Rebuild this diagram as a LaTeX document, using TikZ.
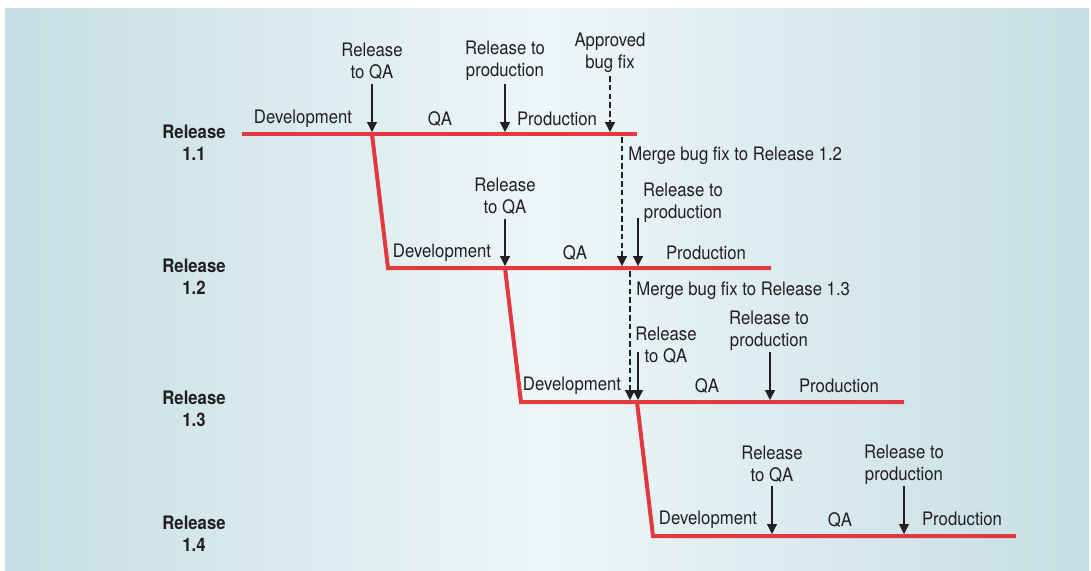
\documentclass[tikz,border=0pt]{standalone}
\usepackage{fontspec}
\setmainfont{TeX Gyre Heros}[FakeStretch=0.9]
\usetikzlibrary{arrows.meta}
\definecolor{bgl}{HTML}{C4DEE3}
\definecolor{bgm}{HTML}{EEF6F7}
\definecolor{relred}{HTML}{E2393F}
\definecolor{ink}{HTML}{231F20}
\tikzset{
  lbl/.style={inner sep=0pt, align=center, text=ink, font=\fontsize{9.3}{11}\selectfont, yshift=-1pt},
  rel/.style={inner sep=0pt, align=center, text=ink, font=\fontsize{9.3}{11}\selectfont\bfseries},
  phase/.style={inner sep=0pt, text=ink, font=\fontsize{9.3}{11}\selectfont, yshift=-1pt},
  redline/.style={draw=relred, line width=2pt},
  arr/.style={draw=ink, line width=0.6pt, -{Triangle[length=5pt,width=5pt]}},
  darr/.style={arr, dash pattern=on 2.8pt off 1.6pt},
  dline/.style={draw=ink, line width=0.6pt, dash pattern=on 2.8pt off 1.6pt}
}
\begin{document}
\begin{tikzpicture}[x=0.5pt,y=-0.5pt]
\useasboundingbox (0,0) rectangle (1091,570);
\shade[left color=bgl, right color=bgl, middle color=bgm] (5,8) rectangle (1089,570);

% release labels
\node[rel] (r11) at (194,143) {Release\\1.1};
\node[rel] (r12) at (194,277) {Release\\1.2};
\node[rel] (r13) at (194,409) {Release\\1.3};
\node[rel] (r14) at (194,534) {Release\\1.4};

% red lines
\coordinate (l1a) at (242,134); \coordinate (l1b) at (637,134);
\coordinate (d1a) at (372,134); \coordinate (l2a) at (388,268); \coordinate (l2b) at (771,268);
\coordinate (d2a) at (505,268); \coordinate (l3a) at (521,402); \coordinate (l3b) at (904,402);
\coordinate (d3a) at (637,402); \coordinate (l4a) at (653,536); \coordinate (l4b) at (1016,536);
\draw[redline] (l1a) -- (l1b);
\draw[redline, line join=miter] (d1a) -- (l2a) -- (l2b);
\draw[redline, line join=miter] (d2a) -- (l3a) -- (l3b);
\draw[redline, line join=miter] (d3a) -- (l4a) -- (l4b);

% Release 1.1
\node[phase] (dev1) at (303,117) {Development};
\node[phase] (qa1) at (440,117) {QA};
\node[phase] (prod1) at (557,117) {Production};
\node[lbl] (rqa1) at (372,59) {Release\\to QA};
\node[lbl] (rpr1) at (505,59) {Release to\\production};
\node[lbl] (abf) at (610,51) {Approved\\bug fix};
\coordinate (a1s) at (372,84); \coordinate (a1e) at (372,132);
\coordinate (a2s) at (505,84); \coordinate (a2e) at (505,132);
\coordinate (a3s) at (610,76); \coordinate (a3e) at (610,132);
\draw[arr] (a1s) -- (a1e);
\draw[arr] (a2s) -- (a2e);
\draw[darr] (a3s) -- (a3e);
\coordinate (m1s) at (622,137); \coordinate (m1e) at (622,266);
\draw[darr] (m1s) -- (m1e);
\node[phase, anchor=west] (mg1) at (628,154) {Merge bug fix to Release 1.2};

% Release 1.2
\node[phase] (dev2) at (442,251) {Development};
\node[phase] (qa2) at (575,251) {QA};
\node[phase] (prod2) at (706,251) {Production};
\node[lbl] (rqa2) at (505,194) {Release\\to QA};
\node[lbl] (rpr2) at (683,201) {Release to\\production};
\coordinate (b1s) at (505,219); \coordinate (b1e) at (505,266);
\coordinate (b2s) at (638,218); \coordinate (b2e) at (638,266);
\draw[arr] (b1s) -- (b1e);
\draw[arr] (b2s) -- (b2e);
\coordinate (m2s) at (630,271); \coordinate (m2e) at (630,400);
\draw[darr] (m2s) -- (m2e);
\node[phase, anchor=west] (mg2) at (636,289) {Merge bug fix to Release 1.3};

% Release 1.3
\node[phase] (dev3) at (572,384) {Development};
\node[phase] (qa3) at (707,384) {QA};
\node[phase] (prod3) at (839,384) {Production};
\node[lbl] (rqa3) at (666,343) {Release\\to QA};
\node[lbl] (rpr3) at (769,329) {Release to\\production};
\coordinate (c1s) at (638,352); \coordinate (c1e) at (638,400);
\coordinate (c2s) at (770,352); \coordinate (c2e) at (770,400);
\draw[arr] (c1s) -- (c1e);
\draw[arr] (c2s) -- (c2e);

% Release 1.4
\node[phase] (dev4) at (708,518) {Development};
\node[phase] (qa4) at (840,518) {QA};
\node[phase] (prod4) at (962,517) {Production};
\node[lbl] (rqa4) at (772,462) {Release\\to QA};
\node[lbl] (rpr4) at (904,463) {Release to\\production};
\coordinate (e1s) at (772,486); \coordinate (e1e) at (772,534);
\coordinate (e2s) at (904,486); \coordinate (e2e) at (904,534);
\draw[arr] (e1s) -- (e1e);
\draw[arr] (e2s) -- (e2e);
\end{tikzpicture}
\end{document}
